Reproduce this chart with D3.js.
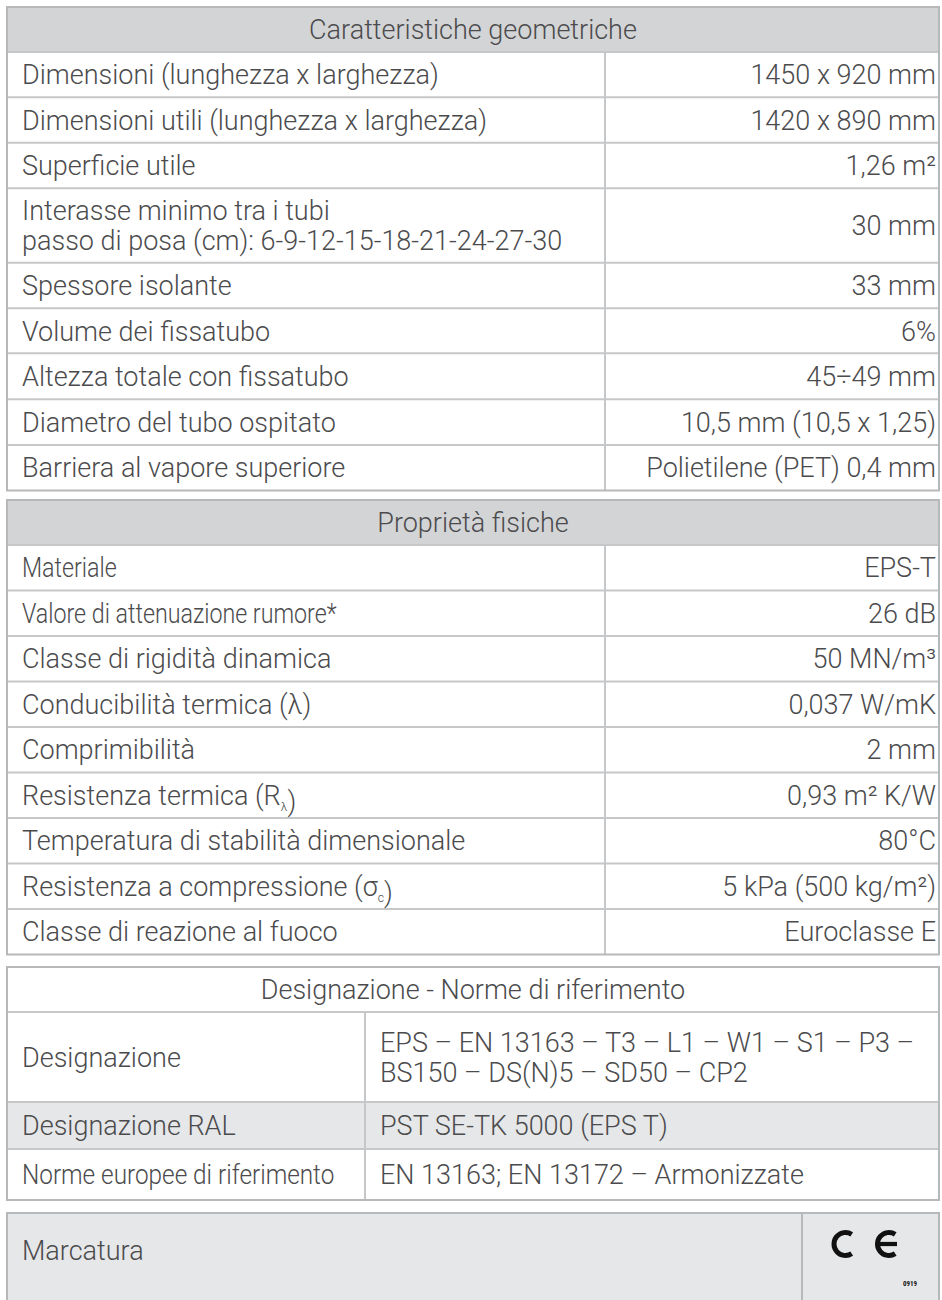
<!DOCTYPE html>
<html>
<head>
<meta charset="utf-8">
<script src="https://cdn.jsdelivr.net/npm/d3@7"></script>
<style>
  html, body { margin: 0; padding: 0; background: #ffffff; }
  svg { display: block; }
</style>
</head>
<body>
<svg id="chart" width="942" height="1300"></svg>
<script>
// ---------- DATA ----------
const geomTitle = "Caratteristiche geometriche";
const geomLabels = [
  "Dimensioni (lunghezza x larghezza)",
  "Dimensioni utili (lunghezza x larghezza)",
  "Superficie utile",
  "Interasse minimo tra i tubi\npasso di posa (cm): 6-9-12-15-18-21-24-27-30",
  "Spessore isolante",
  "Volume dei fissatubo",
  "Altezza totale con fissatubo",
  "Diametro del tubo ospitato",
  "Barriera al vapore superiore"
];
const geomValues = [
  "1450 x 920 mm",
  "1420 x 890 mm",
  "1,26 m²",
  "30 mm",
  "33 mm",
  "6%",
  "45÷49 mm",
  "10,5 mm (10,5 x 1,25)",
  "Polietilene (PET) 0,4 mm"
];

const fisTitle = "Proprietà fisiche";
const fisLabels = [
  "Materiale",
  "Valore di attenuazione rumore*",
  "Classe di rigidità dinamica",
  "Conducibilità termica (λ)",
  "Comprimibilità",
  "Resistenza termica (R_λ)",
  "Temperatura di stabilità dimensionale",
  "Resistenza a compressione (σ_c)",
  "Classe di reazione al fuoco"
];
const fisValues = [
  "EPS-T",
  "26 dB",
  "50 MN/m³",
  "0,037 W/mK",
  "2 mm",
  "0,93 m² K/W",
  "80°C",
  "5 kPa (500 kg/m²)",
  "Euroclasse E"
];

const desTitle = "Designazione - Norme di riferimento";
const desLabels = [
  "Designazione",
  "Designazione RAL",
  "Norme europee di riferimento"
];
const desValues = [
  "EPS – EN 13163 – T3 – L1 – W1 – S1 – P3 –\nBS150 – DS(N)5 – SD50 – CP2",
  "PST SE-TK 5000 (EPS T)",
  "EN 13163; EN 13172 – Armonizzate"
];

const markLabel = "Marcatura";
const markCode = "0919";

// ---------- STYLE / LAYOUT ----------
const FONT = "Roboto, 'Liberation Sans', sans-serif";
const FS = 27;
const TXT = "#4b4b4d";
const HEAD_FILL = "#d3d4d6";
const LIGHT_FILL = "#e6e7e8";
const OUTER = "#b7b8ba";
const INNER = "#c6c7c9";
const X0 = 7, X1 = 939;
const PADL = 15, PADR = 3;

const svg = d3.select("#chart");

function addText(g, str, x, y, anchor, opts = {}) {
  const lines = str.split("\n");
  const fs = opts.fs || FS;
  const lh = opts.lh || 30;
  const t = g.append("text")
    .attr("x", x)
    .attr("text-anchor", anchor)
    .attr("font-family", FONT)
    .attr("font-weight", 300)
    .attr("font-size", fs)
    .attr("fill", TXT);
  lines.forEach((ln, i) => {
    const ty = y + (i - (lines.length - 1) / 2) * lh;
    const line = t.append("tspan").attr("x", x).attr("y", ty).attr("dy", "0.36em");
    const parts = ln.split(/_(.)/);
    parts.forEach((p, k) => {
      if (k % 2 === 0) { if (p) line.append("tspan").text(p); }
      else {
        line.append("tspan").attr("font-size", fs * 0.45).attr("dy", "0.5em").text(p);
        line.append("tspan").attr("dy", "-0.5em").text("");
      }
    });
  });
  if (opts.squeeze) {
    const w = t.node().getComputedTextLength();
    t.attr("textLength", w * opts.squeeze).attr("lengthAdjust", "spacingAndGlyphs");
  }
  return t;
}

function drawTable(top, title, labels, values, heights, splitX, opts = {}) {
  const g = svg.append("g");
  const titleH = opts.titleH || 45;
  const ys = [top, top + titleH];
  heights.forEach(h => ys.push(ys[ys.length - 1] + h));
  const bottom = ys[ys.length - 1];

  g.append("rect").attr("x", X0).attr("y", top).attr("width", X1 - X0).attr("height", titleH)
    .attr("fill", opts.titleFill || HEAD_FILL);
  labels.forEach((l, i) => {
    g.append("rect").attr("x", X0).attr("y", ys[i + 1]).attr("width", X1 - X0)
      .attr("height", ys[i + 2] - ys[i + 1])
      .attr("fill", (opts.rowFills && opts.rowFills[i]) || "#ffffff");
  });
  ys.slice(1, -1).forEach(y => {
    g.append("line").attr("x1", X0).attr("x2", X1).attr("y1", y).attr("y2", y)
      .attr("stroke", INNER).attr("stroke-width", 2);
  });
  g.append("line").attr("x1", splitX).attr("x2", splitX).attr("y1", ys[1]).attr("y2", bottom)
    .attr("stroke", INNER).attr("stroke-width", 2);
  g.append("rect").attr("x", X0).attr("y", top).attr("width", X1 - X0).attr("height", bottom - top)
    .attr("fill", "none").attr("stroke", OUTER).attr("stroke-width", 2);

  addText(g, title, (X0 + X1) / 2, top + titleH / 2, "middle");
  labels.forEach((l, i) => {
    const cy = (ys[i + 1] + ys[i + 2]) / 2;
    addText(g, l, X0 + PADL, cy, "start", { squeeze: opts.squeeze && opts.squeeze[i] });
    if (opts.valueLeft) addText(g, values[i], splitX + PADL, cy, "start");
    else addText(g, values[i], X1 - PADR, cy, "end");
  });
  return bottom;
}

// Table 1
const h1 = [45.3, 45.4, 45.6, 74.4, 45.6, 45, 46, 45.7, 45.5];
drawTable(7, geomTitle, geomLabels, geomValues, h1, 605);

// Table 2
const h2 = [45.5, 45.5, 45.5, 45.5, 45.5, 45.5, 45.5, 45.5, 45.5];
drawTable(500, fisTitle, fisLabels, fisValues, h2, 605,
  { squeeze: [0.86, 0.86, null, null, null, null, null, null, null] });

// Table 3
const h3 = [90, 47, 51];
drawTable(967, desTitle, desLabels, desValues, h3, 365,
  { titleFill: "#ffffff", valueLeft: true, rowFills: [null, LIGHT_FILL, null],
    squeeze: [null, null, 0.9] });

// Table 4: Marcatura
(function () {
  const g = svg.append("g");
  const top = 1213, bottom = 1310, split = 802;
  g.append("rect").attr("x", X0).attr("y", top).attr("width", X1 - X0).attr("height", bottom - top)
    .attr("fill", LIGHT_FILL).attr("stroke", OUTER).attr("stroke-width", 2);
  g.append("line").attr("x1", split).attr("x2", split).attr("y1", top).attr("y2", bottom)
    .attr("stroke", OUTER).attr("stroke-width", 2);
  addText(g, markLabel, X0 + PADL, 1250, "start");

  // CE mark
  const r = 11.5, sw = 5, cy = 1244;
  const cC = 845.5, cE = 889;
  [cC, cE].forEach(cx => {
    const p = d3.path();
    const ang = 1.0;
    p.moveTo(cx + r * Math.cos(ang), cy - r * Math.sin(ang));
    p.arc(cx, cy, r, -ang, ang, true);
    g.append("path").attr("d", p.toString()).attr("fill", "none")
      .attr("stroke", "#111").attr("stroke-width", sw);
  });
  g.append("line").attr("x1", cE - r).attr("x2", cE + 8).attr("y1", cy).attr("y2", cy)
    .attr("stroke", "#111").attr("stroke-width", sw * 0.85);
  g.append("text").attr("x", 903).attr("y", 1286)
    .attr("font-family", "'Liberation Sans Narrow', 'Roboto Condensed', sans-serif")
    .attr("font-weight", 700).attr("font-size", 7).attr("fill", "#111")
    .text(markCode);
})();
</script>
</body>
</html>
